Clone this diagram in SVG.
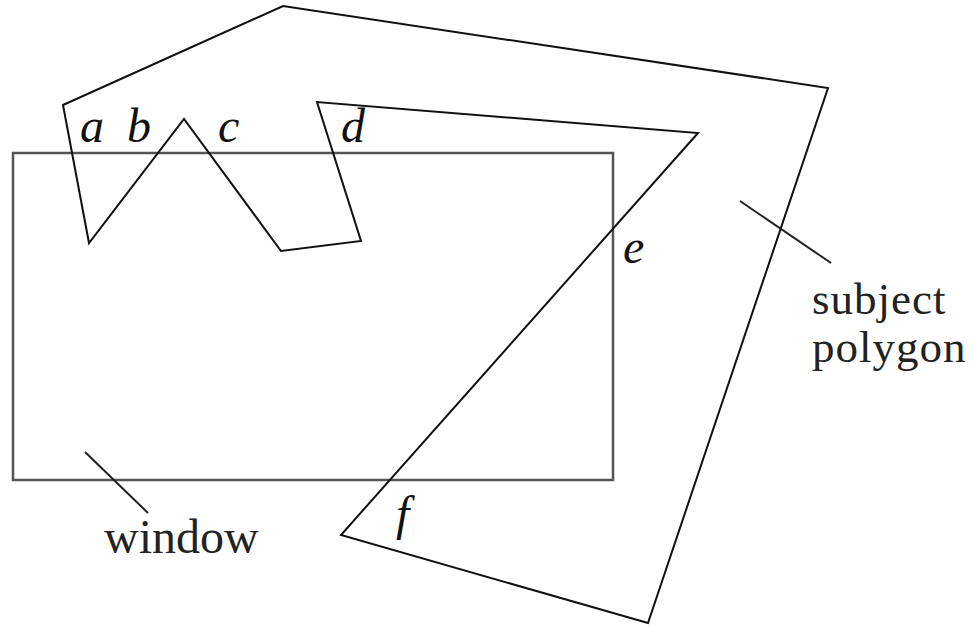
<svg xmlns="http://www.w3.org/2000/svg" width="974" height="627" viewBox="0 0 974 627">
<style>
.poly{fill:none;stroke:#111;stroke-width:2;stroke-linejoin:miter}
.win{fill:none;stroke:#555;stroke-width:2.5}
.lead{stroke:#222;stroke-width:2;fill:none}
.lbl{font-family:"Liberation Serif","Times New Roman",serif;font-style:italic;font-size:48px;fill:#111}
.txt{font-family:"Liberation Serif","Times New Roman",serif;font-size:48px;fill:#222}
.sub{font-size:45px;letter-spacing:1px}
</style>
<rect width="974" height="627" fill="#fff"/>
<g id="window">
<rect class="win" x="13" y="153" width="600" height="327"/>
<text class="txt" x="104" y="553">window</text>
</g>
<g id="subject-polygon">
<polygon class="poly" points="63,105 283,6 828,88 648,623 341,535 698,133 317,102 361,241 281,251 184,119 89,243"/>
<text class="txt sub"><tspan x="812" y="314">subject</tspan><tspan x="812" y="362">polygon</tspan></text>
</g>
<g id="labels">
<text class="lbl" x="80" y="142">a</text>
<text class="lbl" x="127" y="142">b</text>
<text class="lbl" x="218" y="142">c</text>
<text class="lbl" x="341" y="142">d</text>
<text class="lbl" x="623" y="263">e</text>
<text class="lbl" x="396" y="530">f</text>
</g>
<g id="connectors">
<line class="lead" x1="85" y1="452" x2="148" y2="513"/>
<line class="lead" x1="740" y1="201" x2="831" y2="263"/>
</g>
</svg>
